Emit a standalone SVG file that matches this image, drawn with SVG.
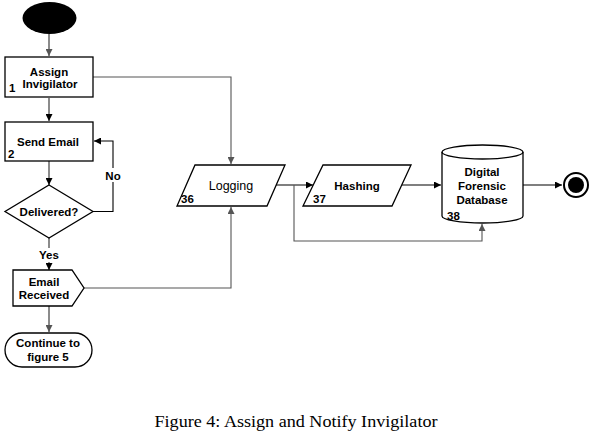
<svg xmlns="http://www.w3.org/2000/svg" width="594" height="440" viewBox="0 0 594 440">
<style>
.shape{fill:#fff;stroke:#000;stroke-width:1.3}
.t{font-family:"Liberation Sans",Arial,sans-serif;font-size:11.5px;font-weight:bold;fill:#000;text-anchor:middle}
.n{font-family:"Liberation Sans",Arial,sans-serif;font-size:11.5px;font-weight:bold;fill:#000}
.g{fill:none;stroke:#6e6e6e;stroke-width:1.6}
.gt{fill:none;stroke:#555;stroke-width:1.1}
.b{fill:none;stroke:#000;stroke-width:1.1}
</style>
<defs>
<marker id="ab" viewBox="0 0 10 10" refX="10" refY="5" markerWidth="7" markerHeight="7" markerUnits="userSpaceOnUse" orient="auto"><path d="M0,0 L10,5 L0,10 z" fill="#000"/></marker>
<marker id="ag" viewBox="0 0 10 10" refX="10" refY="5" markerWidth="7" markerHeight="7" markerUnits="userSpaceOnUse" orient="auto"><path d="M0,0 L10,5 L0,10 z" fill="#555"/></marker>
</defs>
<rect width="594" height="440" fill="#fff"/>
<g id="connectors">
<path class="g" d="M49,34 V56" marker-end="url(#ag)"/>
<path class="g" d="M49,98 V121" marker-end="url(#ab)"/>
<path class="g" d="M49,161 V185" marker-end="url(#ab)"/>
<path class="b" d="M93,211.5 H113 V141 H94" marker-end="url(#ab)"/>
<path class="g" d="M49,238 V270" marker-end="url(#ab)"/>
<path class="g" d="M49,306 V332" marker-end="url(#ag)"/>
<path class="gt" d="M93,77 H231 V164" marker-end="url(#ag)"/>
<path class="gt" d="M84,288 H231 V207" marker-end="url(#ag)"/>
<path class="b" d="M276,185 H313" marker-end="url(#ab)"/>
<path class="gt" d="M294,185 V241 H482 V224" marker-end="url(#ag)"/>
<path class="b" d="M401,185 H441" marker-end="url(#ab)"/>
<path class="b" d="M523,185 H562" marker-end="url(#ab)"/>
<rect x="104" y="168" width="19" height="14" fill="#fff"/>
<text class="t" x="113" y="180">No</text>
<rect x="37" y="248" width="24" height="14" fill="#fff"/>
<text class="t" x="49" y="259">Yes</text>
</g>
<g id="start"><ellipse cx="49.5" cy="18" rx="27" ry="16" fill="#000"/></g>
<g id="assign">
<rect class="shape" x="5" y="57" width="88" height="40"/>
<text class="t" x="49" y="76">Assign</text>
<text class="t" x="50" y="88">Invigilator</text>
<text class="n" x="9" y="92">1</text>
</g>
<g id="send">
<rect class="shape" x="5" y="122" width="88" height="39"/>
<text class="t" x="48" y="146">Send Email</text>
<text class="n" x="8" y="158">2</text>
</g>
<g id="delivered">
<polygon class="shape" points="49,185 93,211.5 49,238 5,211.5"/>
<text class="t" x="49" y="216">Delivered?</text>
</g>
<g id="received">
<polygon class="shape" points="13,270 72,270 84,288 72,306 13,306"/>
<text class="t" x="44" y="286">Email</text>
<text class="t" x="44" y="299">Received</text>
</g>
<g id="continue">
<rect class="shape" x="5" y="333" width="87" height="34" rx="17" ry="17"/>
<text class="t" x="48" y="347">Continue to</text>
<text class="t" x="48" y="361">figure 5</text>
</g>
<g id="logging">
<polygon class="shape" points="195,165 285,165 267,206 177,206"/>
<text class="t" x="231" y="190" style="font-weight:normal;font-size:12.5px">Logging</text>
<text class="n" x="181" y="203">36</text>
</g>
<g id="hashing">
<polygon class="shape" points="323,165 411,165 392,206 303,206"/>
<text class="t" x="357" y="190">Hashing</text>
<text class="n" x="313" y="203">37</text>
</g>
<g id="database">
<path class="shape" d="M442,152 V216 A40.5,7 0 0 0 523,216 V152 A40.5,7 0 0 0 442,152 Z"/>
<path class="shape" style="fill:none" d="M442,152 A40.5,7 0 0 0 523,152"/>
<text class="t" x="482" y="176">Digital</text>
<text class="t" x="482" y="190">Forensic</text>
<text class="t" x="482" y="204">Database</text>
<text class="n" x="447" y="220">38</text>
</g>
<g id="end">
<circle cx="576" cy="185" r="12" fill="#fff" stroke="#000" stroke-width="2"/>
<circle cx="576" cy="185" r="8" fill="#000"/>
</g>
<text x="296" y="427" text-anchor="middle" font-family="'Liberation Serif','Times New Roman',serif" font-size="16" fill="#000" textLength="283" lengthAdjust="spacingAndGlyphs">Figure 4: Assign and Notify Invigilator</text>
</svg>
